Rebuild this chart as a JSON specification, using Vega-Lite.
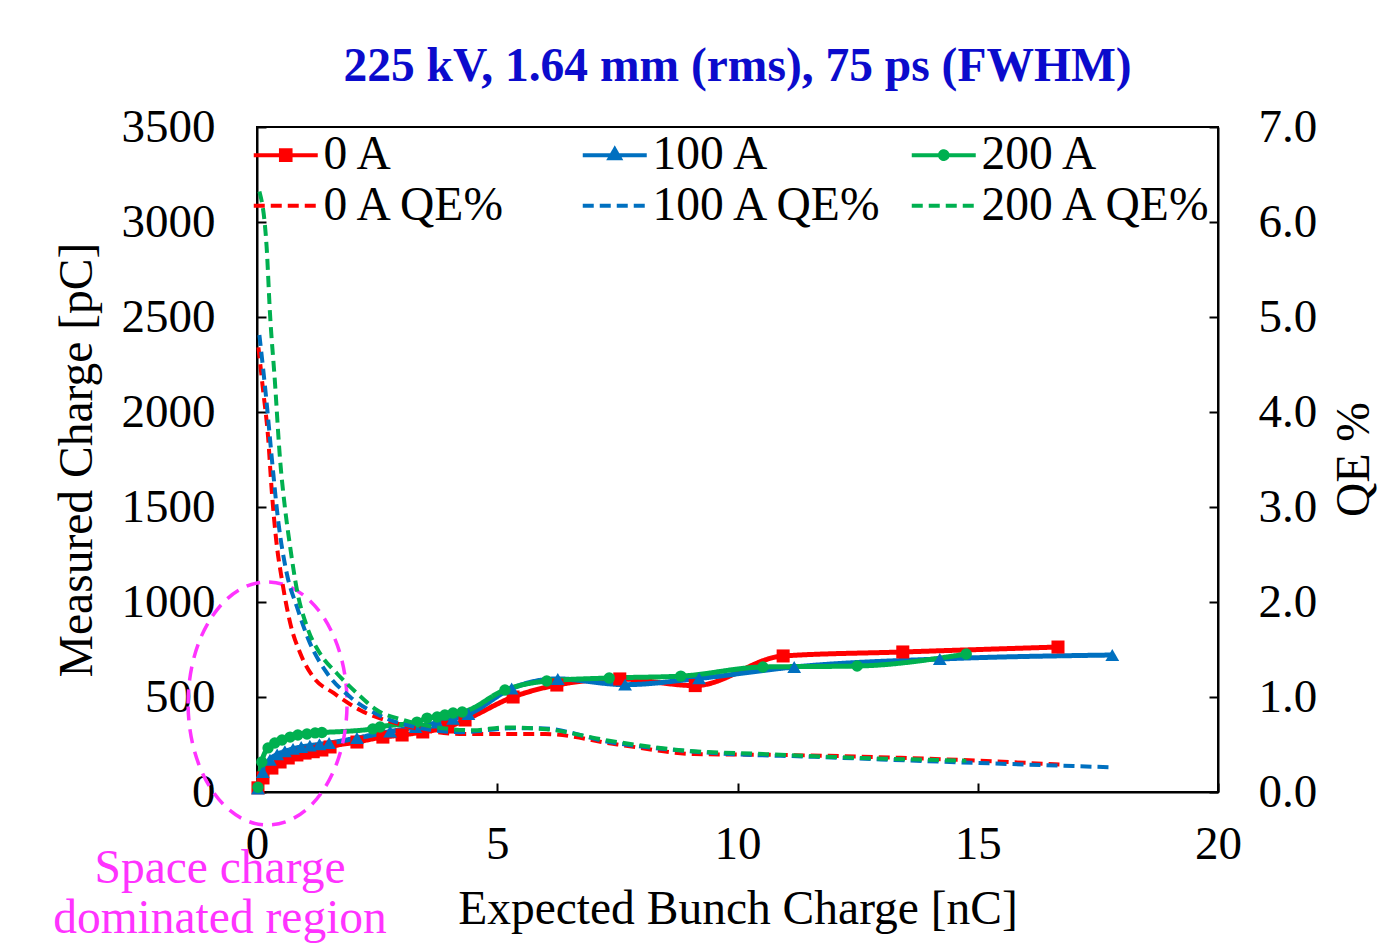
{
  "$schema": "https://vega.github.io/schema/vega-lite/v6.json",
  "width": 961,
  "height": 665,
  "autosize": {"type": "none"},
  "padding": {"left": 257, "top": 127, "right": 161, "bottom": 158},
  "background": "white",
  "config": {
    "font": "Liberation Serif",
    "view": {"stroke": "black", "strokeWidth": 2},
    "axis": {
      "grid": false,
      "domainColor": "black",
      "domainWidth": 2,
      "tickColor": "black",
      "tickWidth": 2,
      "tickSize": -9,
      "labelColor": "black",
      "titleColor": "black",
      "labelFont": "Liberation Serif",
      "titleFont": "Liberation Serif",
      "labelFontSize": 47,
      "titleFontSize": 47.5,
      "titleFontWeight": "normal",
      "labelFlush": false,
      "labelOverlap": false
    }
  },
  "title": {
    "text": "225 kV, 1.64 mm (rms), 75 ps (FWHM)",
    "font": "Liberation Serif",
    "fontSize": 47.5,
    "fontWeight": "bold",
    "color": "#0b0bcc",
    "anchor": "middle",
    "offset": 13
  },
  "datasets": {
    "charge": [
      {"s": "0 A", "x": 0.02, "y": 22}, {"s": "0 A", "x": 0.125, "y": 74}, {"s": "0 A", "x": 0.31, "y": 126},
      {"s": "0 A", "x": 0.48, "y": 158}, {"s": "0 A", "x": 0.65, "y": 179}, {"s": "0 A", "x": 0.83, "y": 195},
      {"s": "0 A", "x": 1.0, "y": 205}, {"s": "0 A", "x": 1.17, "y": 212}, {"s": "0 A", "x": 1.35, "y": 221},
      {"s": "0 A", "x": 1.52, "y": 237}, {"s": "0 A", "x": 2.08, "y": 263}, {"s": "0 A", "x": 2.62, "y": 289},
      {"s": "0 A", "x": 3.02, "y": 300}, {"s": "0 A", "x": 3.45, "y": 316}, {"s": "0 A", "x": 3.97, "y": 342},
      {"s": "0 A", "x": 4.33, "y": 379}, {"s": "0 A", "x": 5.33, "y": 500}, {"s": "0 A", "x": 6.24, "y": 563},
      {"s": "0 A", "x": 7.55, "y": 595}, {"s": "0 A", "x": 9.12, "y": 560}, {"s": "0 A", "x": 10.95, "y": 716},
      {"s": "0 A", "x": 13.44, "y": 737}, {"s": "0 A", "x": 16.67, "y": 763},
      {"s": "100 A", "x": 0.02, "y": 18}, {"s": "100 A", "x": 0.12, "y": 105}, {"s": "100 A", "x": 0.27, "y": 170},
      {"s": "100 A", "x": 0.42, "y": 198}, {"s": "100 A", "x": 0.58, "y": 214}, {"s": "100 A", "x": 0.75, "y": 227},
      {"s": "100 A", "x": 0.92, "y": 237}, {"s": "100 A", "x": 1.1, "y": 244}, {"s": "100 A", "x": 1.3, "y": 251},
      {"s": "100 A", "x": 1.5, "y": 258}, {"s": "100 A", "x": 2.08, "y": 284}, {"s": "100 A", "x": 2.77, "y": 318},
      {"s": "100 A", "x": 3.3, "y": 342}, {"s": "100 A", "x": 3.75, "y": 365}, {"s": "100 A", "x": 4.08, "y": 385},
      {"s": "100 A", "x": 4.4, "y": 410}, {"s": "100 A", "x": 5.3, "y": 545}, {"s": "100 A", "x": 6.26, "y": 595},
      {"s": "100 A", "x": 7.66, "y": 565}, {"s": "100 A", "x": 9.2, "y": 598}, {"s": "100 A", "x": 11.18, "y": 658},
      {"s": "100 A", "x": 14.21, "y": 700}, {"s": "100 A", "x": 17.8, "y": 721},
      {"s": "200 A", "x": 0.02, "y": 25}, {"s": "200 A", "x": 0.1, "y": 158}, {"s": "200 A", "x": 0.23, "y": 232},
      {"s": "200 A", "x": 0.37, "y": 258}, {"s": "200 A", "x": 0.52, "y": 274}, {"s": "200 A", "x": 0.69, "y": 289},
      {"s": "200 A", "x": 0.85, "y": 300}, {"s": "200 A", "x": 1.04, "y": 305}, {"s": "200 A", "x": 1.21, "y": 311},
      {"s": "200 A", "x": 1.35, "y": 313}, {"s": "200 A", "x": 2.41, "y": 332}, {"s": "200 A", "x": 2.56, "y": 342},
      {"s": "200 A", "x": 3.33, "y": 368}, {"s": "200 A", "x": 3.54, "y": 389}, {"s": "200 A", "x": 3.75, "y": 395},
      {"s": "200 A", "x": 3.91, "y": 405}, {"s": "200 A", "x": 4.08, "y": 416}, {"s": "200 A", "x": 4.27, "y": 421},
      {"s": "200 A", "x": 5.16, "y": 537}, {"s": "200 A", "x": 6.03, "y": 584}, {"s": "200 A", "x": 7.33, "y": 600},
      {"s": "200 A", "x": 8.82, "y": 610}, {"s": "200 A", "x": 10.53, "y": 658}, {"s": "200 A", "x": 12.49, "y": 663},
      {"s": "200 A", "x": 14.76, "y": 726}
    ],
    "qe": [
      {"s": "0 A QE%", "x": 0.03, "q": 4.68}, {"s": "0 A QE%", "x": 0.12, "q": 4.26}, {"s": "0 A QE%", "x": 0.23, "q": 3.74},
      {"s": "0 A QE%", "x": 0.31, "q": 3.15}, {"s": "0 A QE%", "x": 0.4, "q": 2.65}, {"s": "0 A QE%", "x": 0.52, "q": 2.23},
      {"s": "0 A QE%", "x": 0.69, "q": 1.78}, {"s": "0 A QE%", "x": 0.9, "q": 1.46}, {"s": "0 A QE%", "x": 1.17, "q": 1.21},
      {"s": "0 A QE%", "x": 1.6, "q": 1.04}, {"s": "0 A QE%", "x": 2.15, "q": 0.86}, {"s": "0 A QE%", "x": 2.85, "q": 0.73},
      {"s": "0 A QE%", "x": 3.5, "q": 0.65}, {"s": "0 A QE%", "x": 4.3, "q": 0.61}, {"s": "0 A QE%", "x": 5.3, "q": 0.61},
      {"s": "0 A QE%", "x": 6.0, "q": 0.61}, {"s": "0 A QE%", "x": 7.5, "q": 0.5}, {"s": "0 A QE%", "x": 9.1, "q": 0.4},
      {"s": "0 A QE%", "x": 10.9, "q": 0.39}, {"s": "0 A QE%", "x": 13.4, "q": 0.36}, {"s": "0 A QE%", "x": 16.7, "q": 0.29},
      {"s": "100 A QE%", "x": 0.05, "q": 4.81}, {"s": "100 A QE%", "x": 0.2, "q": 4.1}, {"s": "100 A QE%", "x": 0.32, "q": 3.45},
      {"s": "100 A QE%", "x": 0.44, "q": 2.86}, {"s": "100 A QE%", "x": 0.62, "q": 2.3}, {"s": "100 A QE%", "x": 0.83, "q": 1.95},
      {"s": "100 A QE%", "x": 1.1, "q": 1.57}, {"s": "100 A QE%", "x": 1.46, "q": 1.25}, {"s": "100 A QE%", "x": 1.94, "q": 1.0},
      {"s": "100 A QE%", "x": 2.62, "q": 0.79}, {"s": "100 A QE%", "x": 3.33, "q": 0.68}, {"s": "100 A QE%", "x": 4.22, "q": 0.63},
      {"s": "100 A QE%", "x": 5.3, "q": 0.67}, {"s": "100 A QE%", "x": 5.9, "q": 0.67}, {"s": "100 A QE%", "x": 7.4, "q": 0.52},
      {"s": "100 A QE%", "x": 9.5, "q": 0.41}, {"s": "100 A QE%", "x": 11.6, "q": 0.37}, {"s": "100 A QE%", "x": 14.2, "q": 0.32},
      {"s": "100 A QE%", "x": 17.8, "q": 0.26},
      {"s": "200 A QE%", "x": 0.05, "q": 6.32}, {"s": "200 A QE%", "x": 0.2, "q": 5.74}, {"s": "200 A QE%", "x": 0.27, "q": 5.04},
      {"s": "200 A QE%", "x": 0.37, "q": 4.34}, {"s": "200 A QE%", "x": 0.48, "q": 3.5}, {"s": "200 A QE%", "x": 0.58, "q": 3.0},
      {"s": "200 A QE%", "x": 0.69, "q": 2.58}, {"s": "200 A QE%", "x": 0.83, "q": 2.13}, {"s": "200 A QE%", "x": 1.04, "q": 1.74},
      {"s": "200 A QE%", "x": 1.31, "q": 1.46}, {"s": "200 A QE%", "x": 1.66, "q": 1.25}, {"s": "200 A QE%", "x": 2.08, "q": 1.04},
      {"s": "200 A QE%", "x": 2.5, "q": 0.86}, {"s": "200 A QE%", "x": 3.04, "q": 0.76}, {"s": "200 A QE%", "x": 3.75, "q": 0.68},
      {"s": "200 A QE%", "x": 4.5, "q": 0.65}, {"s": "200 A QE%", "x": 5.16, "q": 0.68}, {"s": "200 A QE%", "x": 6.03, "q": 0.66},
      {"s": "200 A QE%", "x": 7.33, "q": 0.54}, {"s": "200 A QE%", "x": 8.82, "q": 0.44}, {"s": "200 A QE%", "x": 10.53, "q": 0.4},
      {"s": "200 A QE%", "x": 12.49, "q": 0.36}, {"s": "200 A QE%", "x": 14.76, "q": 0.33}
    ],
    "ellipse": [{"x": 0.22, "y": 466}],
    "note": [{"x": -0.77, "y": -405, "t": "Space charge\ndominated region"}]
  },
  "layer": [
    {
      "layer": [
        {
          "data": {"name": "charge"},
          "mark": {"type": "line", "interpolate": "monotone", "strokeWidth": 5},
          "encoding": {
            "x": {"field": "x", "type": "quantitative", "scale": {"domain": [0, 20], "nice": false},
                  "axis": {"values": [0, 5, 10, 15, 20], "title": "Expected Bunch Charge [nC]", "labelPadding": 38, "titlePadding": 18}},
            "y": {"field": "y", "type": "quantitative", "scale": {"domain": [0, 3500], "nice": false},
                  "axis": {"orient": "left", "values": [0, 500, 1000, 1500, 2000, 2500, 3000, 3500], "format": "d", "title": "Measured Charge [pC]", "labelPadding": 51, "titlePadding": 20}},
            "color": {
              "field": "s", "type": "nominal",
              "scale": {"domain": ["0 A", "100 A", "200 A", "0 A QE%", "100 A QE%", "200 A QE%"],
                        "range": ["#ff0000", "#0070c0", "#00b050", "#ff0000", "#0070c0", "#00b050"]},
              "legend": {
                "orient": "none", "legendX": 5, "legendY": 4, "columns": 3, "direction": "horizontal", "gridAlign": "all",
                "columnPadding": 18, "rowPadding": 2, "padding": 0, "title": null,
                "labelFontSize": 47.5, "labelFont": "Liberation Serif", "labelColor": "black", "labelLimit": 600,
                "labelOffset": 14, "symbolSize": 1024, "symbolStrokeWidth": 4,
                "encode": {
                  "symbols": {
                    "update": {
                      "strokeWidth": {"value": 4},
                      "fill": {"signal": "datum.value == '0 A' ? '#ff0000' : datum.value == '100 A' ? '#0070c0' : datum.value == '200 A' ? '#00b050' : 'transparent'"},
                      "shape": {"signal": "datum.value == '0 A' ? 'M-2,0L2,0M-0.3,-0.3L0.3,-0.3L0.3,0.3L-0.3,0.3Z' : datum.value == '100 A' ? 'M-2,0L2,0M0,-0.36L0.32,0.2L-0.32,0.2Z' : datum.value == '200 A' ? 'M-2,0L2,0M0.24,0A0.24,0.24,0,1,1,-0.24,0A0.24,0.24,0,1,1,0.24,0Z' : 'M-2,0L2,0'"}
                    }
                  }
                }
              }
            },
            "strokeDash": {
              "field": "s", "type": "nominal",
              "scale": {"domain": ["0 A", "100 A", "200 A", "0 A QE%", "100 A QE%", "200 A QE%"],
                        "range": [[1, 0], [1, 0], [1, 0], [11, 6], [11, 6], [11, 6]]}
            }
          }
        },
        {
          "data": {"name": "charge"},
          "transform": [{"filter": "datum.s == '0 A'"}],
          "mark": {"type": "point", "shape": "square", "filled": true, "size": 170, "opacity": 1, "color": "#ff0000"},
          "encoding": {"x": {"field": "x", "type": "quantitative"}, "y": {"field": "y", "type": "quantitative"}}
        },
        {
          "data": {"name": "charge"},
          "transform": [{"filter": "datum.s == '100 A'"}],
          "mark": {"type": "point", "shape": "triangle-up", "filled": true, "size": 190, "opacity": 1, "color": "#0070c0"},
          "encoding": {"x": {"field": "x", "type": "quantitative"}, "y": {"field": "y", "type": "quantitative"}}
        },
        {
          "data": {"name": "charge"},
          "transform": [{"filter": "datum.s == '200 A'"}],
          "mark": {"type": "point", "shape": "circle", "filled": true, "size": 130, "opacity": 1, "color": "#00b050"},
          "encoding": {"x": {"field": "x", "type": "quantitative"}, "y": {"field": "y", "type": "quantitative"}}
        },
        {
          "data": {"name": "ellipse"},
          "mark": {"type": "point", "shape": "M-0.654,0A0.654,1,0,1,1,0.654,0A0.654,1,0,1,1,-0.654,0Z", "size": 59049,
                   "filled": false, "stroke": "#ff33ff", "strokeWidth": 3.5, "strokeDash": [14, 9], "opacity": 1, "clip": false},
          "encoding": {"x": {"field": "x", "type": "quantitative"}, "y": {"field": "y", "type": "quantitative"}}
        },
        {
          "data": {"name": "note"},
          "mark": {"type": "text", "color": "#ff33ff", "font": "Liberation Serif", "fontSize": 47.5, "align": "center",
                   "baseline": "middle", "lineBreak": "\n", "lineHeight": 50, "clip": false},
          "encoding": {"x": {"field": "x", "type": "quantitative"}, "y": {"field": "y", "type": "quantitative"}, "text": {"field": "t"}}
        }
      ]
    },
    {
      "data": {"name": "qe"},
      "mark": {"type": "line", "interpolate": "monotone", "strokeWidth": 4},
      "encoding": {
        "x": {"field": "x", "type": "quantitative"},
        "y": {"field": "q", "type": "quantitative", "scale": {"domain": [0, 7], "nice": false},
              "axis": {"orient": "right", "values": [0, 1, 2, 3, 4, 5, 6, 7], "format": ".1f", "title": "QE %",
                       "titleAngle": 270, "titleX": 136, "titleY": 332, "titleAlign": "center", "titleBaseline": "middle", "labelPadding": 49}},
        "color": {"field": "s", "type": "nominal",
                  "scale": {"domain": ["0 A", "100 A", "200 A", "0 A QE%", "100 A QE%", "200 A QE%"],
                            "range": ["#ff0000", "#0070c0", "#00b050", "#ff0000", "#0070c0", "#00b050"]}},
        "strokeDash": {"field": "s", "type": "nominal",
                       "scale": {"domain": ["0 A", "100 A", "200 A", "0 A QE%", "100 A QE%", "200 A QE%"],
                                 "range": [[1, 0], [1, 0], [1, 0], [11, 6], [11, 6], [11, 6]]}}
      }
    }
  ],
  "resolve": {"scale": {"y": "independent"}}
}
